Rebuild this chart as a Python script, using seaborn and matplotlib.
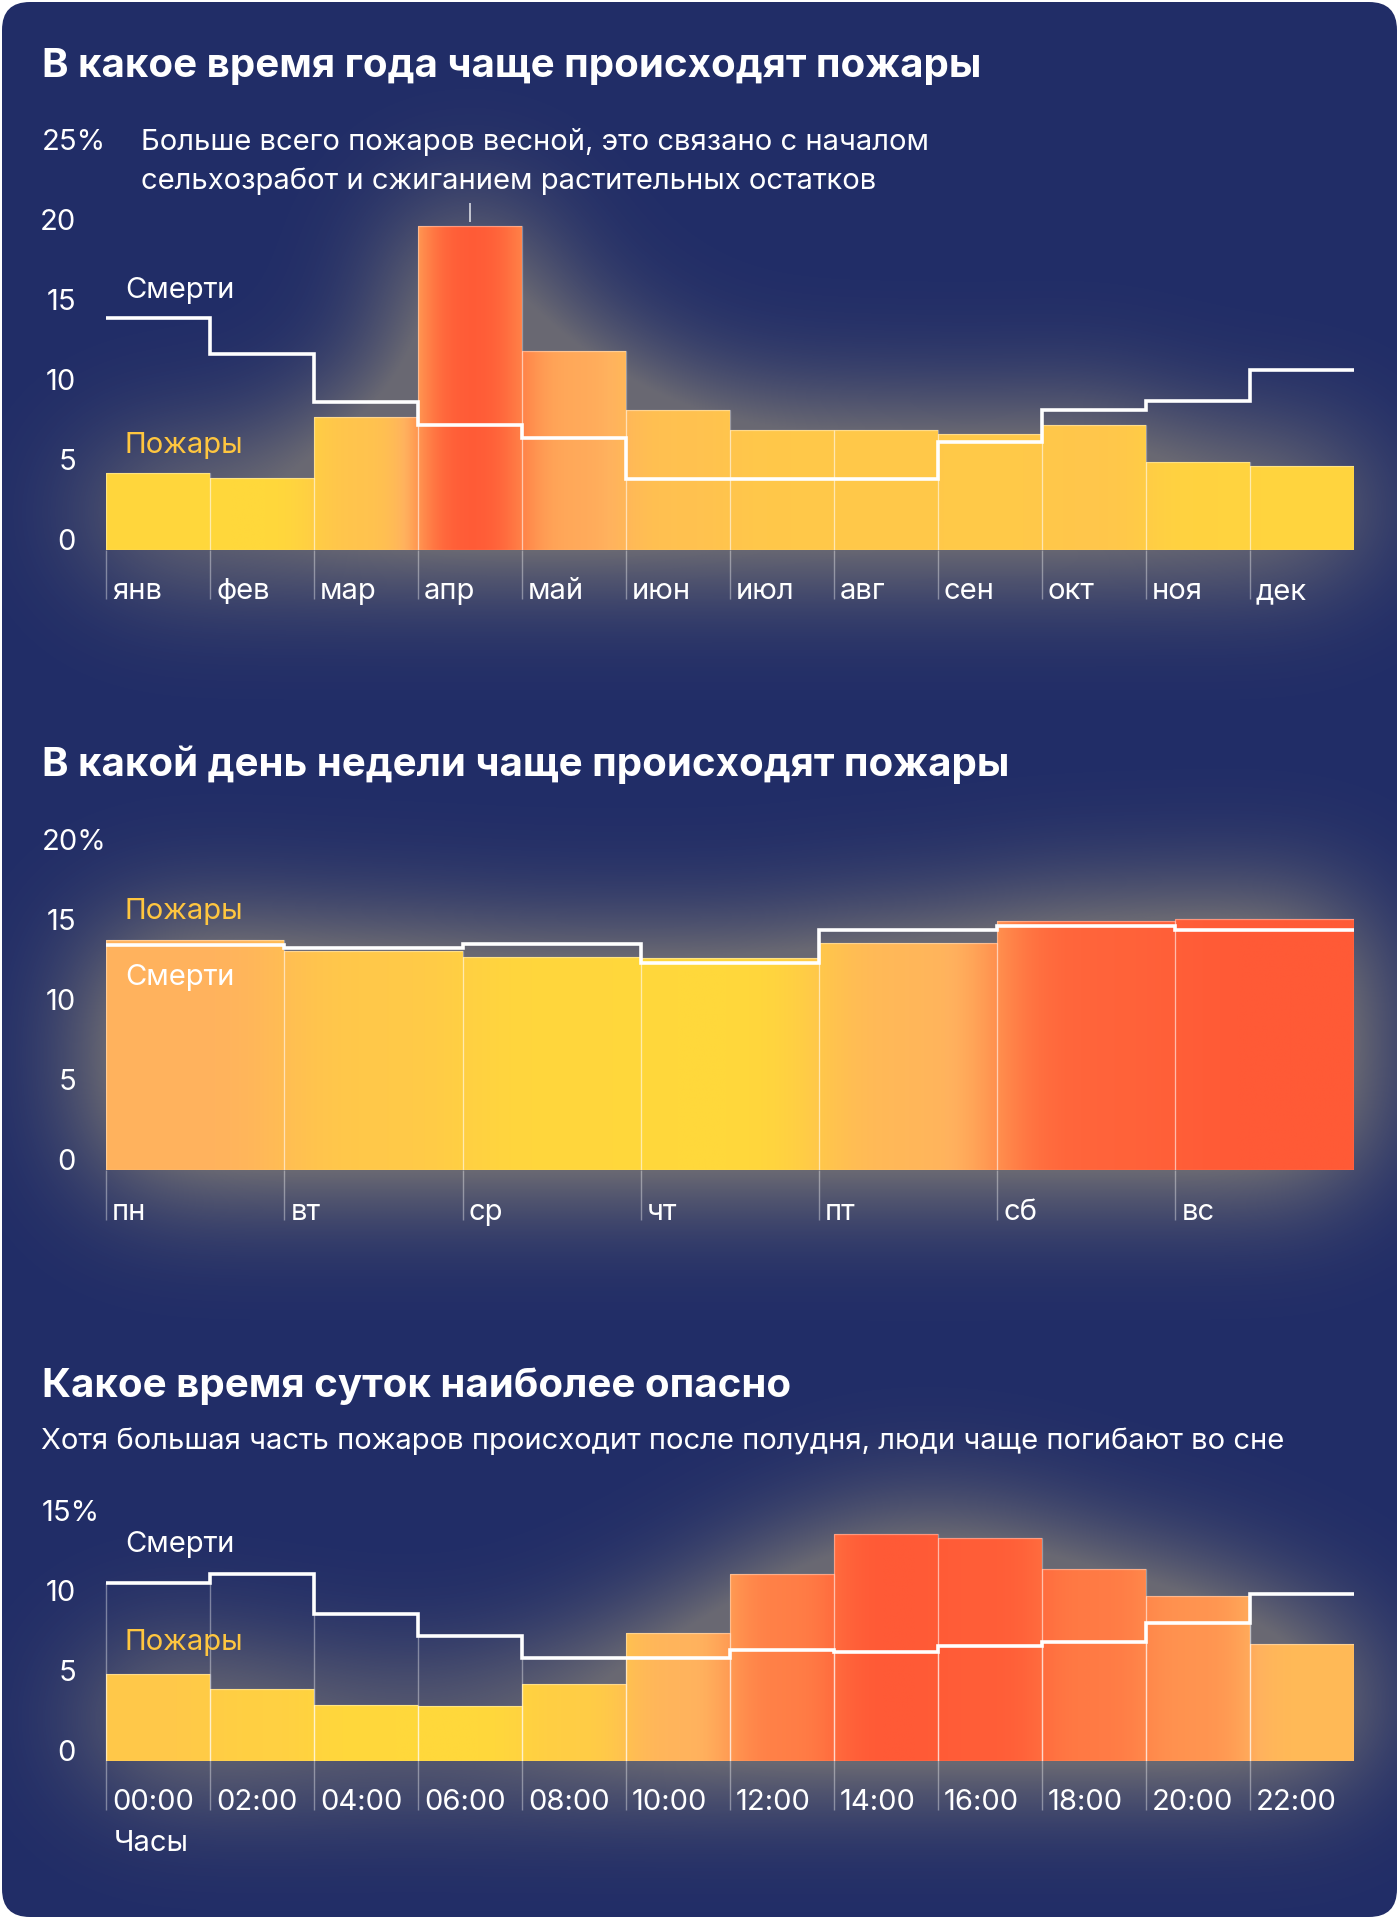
import numpy as np
import pandas as pd
import seaborn as sns
import matplotlib
matplotlib.use("Agg")
import matplotlib.pyplot as plt
from matplotlib.colors import LinearSegmentedColormap, to_rgb
from matplotlib.patches import FancyBboxPatch, PathPatch
from matplotlib.path import Path
import matplotlib.transforms as mtransforms

# ---------------- data ----------------
months = ["янв", "фев", "мар", "апр", "май", "июн", "июл", "авг", "сен", "окт", "ноя", "дек"]
fires_month = [4.8, 4.5, 8.3, 20.2, 12.4, 8.7, 7.5, 7.5, 7.2, 7.8, 5.5, 5.2]
deaths_month = [14.5, 12.2, 9.2, 7.8, 7.0, 4.4, 4.4, 4.4, 6.7, 8.7, 9.3, 11.2]

weekdays = ["пн", "вт", "ср", "чт", "пт", "сб", "вс"]
fires_week = [14.35, 13.7, 13.3, 13.25, 14.2, 15.55, 15.7]
deaths_week = [14.05, 13.85, 14.15, 12.95, 15.0, 15.25, 15.0]

hours = ["00:00", "02:00", "04:00", "06:00", "08:00", "10:00",
         "12:00", "14:00", "16:00", "18:00", "20:00", "22:00"]
fires_hour = [5.45, 4.5, 3.5, 3.45, 4.8, 8.0, 11.7, 14.2, 13.95, 12.0, 10.3, 7.3]
deaths_hour = [11.1, 11.7, 9.2, 7.8, 6.45, 6.4, 6.9, 6.8, 7.15, 7.45, 8.6, 10.4]

ticks_month = [0, 5, 10, 15, 20, 25]
ticks_week = [0, 5, 10, 15, 20]
ticks_hour = [0, 5, 10, 15]

titles = ["В какое время года чаще происходят пожары",
          "В какой день недели чаще происходят пожары",
          "Какое время суток наиболее опасно"]
note_month = ["Больше всего пожаров весной, это связано с началом",
              "сельхозработ и сжиганием растительных остатков"]
subtitle_hour = "Хотя большая часть пожаров происходит после полудня, люди чаще погибают во сне"
label_fires = "Пожары"
label_deaths = "Смерти"
label_hours = "Часы"

# ---------------- style ----------------
sns.set_style("white")
plt.rcParams["font.family"] = ["Inter", "DejaVu Sans"]

NAVY = "#212D67"
FIRE_TXT = "#FFC63F"
W, H = 1400, 1920
cmap = LinearSegmentedColormap.from_list(
    "fire", [(0.0, "#FFD83B"), (0.45, "#FFB25E"), (1.0, "#FF5A36")])

fig = plt.figure(figsize=(W / 100, H / 100), dpi=100, facecolor="white")

# background axes in pixel coordinates
bg = fig.add_axes([0, 0, 1, 1], zorder=0)
bg.set_xlim(0, W)
bg.set_ylim(H, 0)
bg.set_axis_off()
card = FancyBboxPatch((2, 2), W - 5, H - 5,
                      boxstyle="round,pad=0,rounding_size=28",
                      fc=NAVY, ec="none", zorder=1)
bg.add_patch(card)

TITLE_FS = 29
FS = 21

bg.text(42, 77, titles[0], color="white", fontsize=TITLE_FS, fontweight="bold", va="baseline", ha="left", zorder=5)
bg.text(42, 776, titles[1], color="white", fontsize=TITLE_FS, fontweight="bold", va="baseline", ha="left", zorder=5)
bg.text(42, 1397, titles[2], color="white", fontsize=TITLE_FS, fontweight="bold", va="baseline", ha="left", zorder=5)
bg.text(41, 1449, subtitle_hour, color="white", fontsize=FS, va="baseline", ha="left", zorder=5)

AX_L, AX_R = 106.25, 1353.6
PX_PER_UNIT = 16.0


def make_axes(zero_px, ymax):
    top_px = zero_px - ymax * PX_PER_UNIT
    ax = fig.add_axes([AX_L / W, (H - zero_px) / H, (AX_R - AX_L) / W,
                       (zero_px - top_px) / H], zorder=2)
    ax.patch.set_alpha(0)
    return ax


def smooth_colors(values, sigma=0.22, res=60):
    n = len(values)
    xs = (np.arange(n * res) + 0.5) / res - 0.5
    idx = np.clip(np.floor(xs + 0.5).astype(int), 0, n - 1)
    v = np.asarray(values, float)[idx]
    s = sigma * res
    k = np.arange(-int(4 * s), int(4 * s) + 1)
    kern = np.exp(-0.5 * (k / s) ** 2)
    kern /= kern.sum()
    vp = np.pad(v, len(k) // 2, mode="edge")
    vs = np.convolve(vp, kern, mode="valid")
    nrm = (vs - min(values)) / (max(values) - min(values))
    return cmap(np.clip(nrm, 0, 1))[:, :3]


all_bars = []


def px_to_axfrac(px):
    return (px - AX_L) / (AX_R - AX_L)


def draw_chart(ax, cats, fires, deaths, ymax, ticks, y_deaths_lbl, y_fires_lbl,
               extend_lines=False, tick_bottom=-3.1):
    n = len(cats)
    df = pd.DataFrame({"cat": cats, "fires": fires})
    sns.barplot(data=df, x="cat", y="fires", order=cats, width=1.0, ax=ax,
                errorbar=None, color="#FFC84A", saturation=1)
    bars = list(ax.patches)
    all_bars.extend(bars)

    # gradient fill clipped to bars
    rgb = smooth_colors(fires)
    img = np.tile(rgb[None, :, :], (2, 1, 1))
    im = ax.imshow(img, extent=(-0.5, n - 0.5, 0, max(fires) * 1.02),
                   aspect="auto", interpolation="bilinear", origin="lower", zorder=2)
    compound = Path.make_compound_path(
        *[b.get_path().transformed(b.get_patch_transform()) for b in bars])
    clip = PathPatch(compound, transform=ax.transData, fc="none", ec="none")
    im.set_clip_path(clip)
    for b in bars:
        b.set_facecolor("none")
        b.set_edgecolor((1, 1, 1, 0.35))
        b.set_linewidth(0.9)
        b.set_zorder(3)

    # vertical separators / ticks
    if extend_lines:
        tops = [max(deaths[0], fires[0])] + [min(deaths[i - 1], deaths[i]) for i in range(1, n)]
    else:
        tops = [0] * n
    ax.vlines(np.arange(n) - 0.5, tick_bottom, tops, colors=[(1, 1, 1, 0.38)],
              lw=1.0, zorder=3, clip_on=False)

    # deaths step line
    xe = np.arange(n + 1) - 0.5
    ye = list(deaths) + [deaths[-1]]
    ax.plot(xe, ye, drawstyle="steps-post", color="white", lw=2.6, zorder=5,
            solid_joinstyle="miter", solid_capstyle="butt", clip_on=False)

    ax.set_xlim(-0.5, n - 0.5)
    ax.set_ylim(0, ymax)
    ax.set_axis_off()

    # x tick labels
    off = mtransforms.offset_copy(ax.transData, fig=fig, x=6, y=0, units="dots")
    for i, c in enumerate(cats):
        ax.text(i - 0.5, tick_bottom, c, transform=off, ha="left", va="baseline",
                color="white", fontsize=FS, clip_on=False)

    # y tick labels
    ytr = ax.get_yaxis_transform()
    for t in ticks[:-1]:
        ax.text(px_to_axfrac(76), t, str(t), transform=ytr, ha="right", va="baseline",
                color="white", fontsize=FS, clip_on=False)
    ax.text(px_to_axfrac(42), ticks[-1], f"{ticks[-1]}%", transform=ytr, ha="left",
            va="baseline", color="white", fontsize=FS, clip_on=False)

    # series labels
    xl = px_to_axfrac(125)
    ax.text(xl, y_deaths_lbl, label_deaths, transform=ytr, ha="left", va="baseline",
            color="white", fontsize=FS, zorder=6, clip_on=False)
    ax.text(xl, y_fires_lbl, label_fires, transform=ytr, ha="left", va="baseline",
            color=FIRE_TXT, fontsize=FS, zorder=6, clip_on=False)
    return ax


# chart 1: months
ax1 = make_axes(549.6, 25)
draw_chart(ax1, months, fires_month, deaths_month, 25, ticks_month, 15.7, 6.05)
xn = px_to_axfrac(141)
ytr1 = ax1.get_yaxis_transform()
ax1.text(xn, 24.95, note_month[0], transform=ytr1, ha="left", va="baseline",
         color="white", fontsize=FS, clip_on=False)
ax1.text(xn, 24.95 - 39 / PX_PER_UNIT, note_month[1], transform=ytr1, ha="left",
         va="baseline", color="white", fontsize=FS, clip_on=False)
apr = months.index("апр")
ax1.vlines([apr], fires_month[apr] + 0.3, fires_month[apr] + 1.45,
           colors=[(1, 1, 1, 0.8)], lw=1.2, clip_on=False)

# chart 2: weekdays
ax2 = make_axes(1170, 20)
draw_chart(ax2, weekdays, fires_week, deaths_week, 20, ticks_week, 11.55, 15.67)

# chart 3: hours
ax3 = make_axes(1760.7, 15)
draw_chart(ax3, hours, fires_hour, deaths_hour, 15, ticks_hour, 13.05, 6.95,
           extend_lines=True, tick_bottom=-3.1)
ax3.text(px_to_axfrac(114), -5.65, label_hours, transform=ax3.get_yaxis_transform(),
         ha="left", va="baseline", color="white", fontsize=FS, clip_on=False)

# ---------------- glow behind bars ----------------
S = 4
h, w = H // S, W // S
mask = np.zeros((h, w))
for b in all_bars:
    bb = b.get_window_extent()
    x0, x1 = int(bb.x0 / S), int(np.ceil(bb.x1 / S))
    y0, y1 = int((H - bb.y1) / S), int(np.ceil((H - bb.y0) / S))
    mask[max(y0, 0):y1, max(x0, 0):x1] = 1.0

sig = 16.0
kk = np.arange(-int(4 * sig), int(4 * sig) + 1)
kern = np.exp(-0.5 * (kk / sig) ** 2)
kern /= kern.sum()
pad = len(kk) // 2
m = np.pad(mask, pad, mode="constant")
m = np.apply_along_axis(lambda r: np.convolve(r, kern, mode="same"), 1, m)
m = np.apply_along_axis(lambda c: np.convolve(c, kern, mode="same"), 0, m)
m = m[pad:-pad, pad:-pad]
glow = np.zeros((h, w, 4))
glow[..., :3] = to_rgb("#E2CC86")
glow[..., 3] = np.clip(m * 0.75, 0, 0.38)
gim = bg.imshow(glow, extent=(0, W, H, 0), interpolation="bilinear", zorder=2, aspect="auto")
gim.set_clip_path(card)
bg.set_xlim(0, W)
bg.set_ylim(H, 0)

fig.savefig("out.png", dpi=100, facecolor="white")
